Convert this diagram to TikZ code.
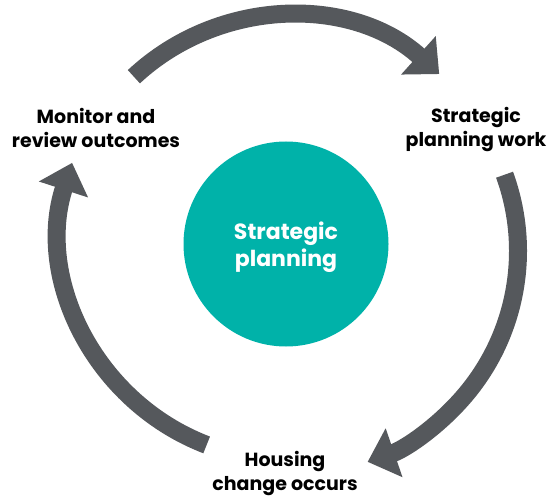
\documentclass[tikz,border=0pt]{standalone}
\usepackage{fontspec}
\setmainfont{Poppins}
\usetikzlibrary{arrows.meta}
\definecolor{cyclegrey}{HTML}{55585C}
\definecolor{planteal}{HTML}{00B2A9}

\begin{document}
\begin{tikzpicture}[x=1pt, y=1pt,
    every node/.style={align=center, font=\fontsize{19}{24}\selectfont\bfseries},
    cyclearrow/.style={draw=cyclegrey, line width=18pt, -{Triangle[width=50pt,length=28pt]}}]
    \useasboundingbox (0,0) rectangle (548,498);
    \node[circle, fill=planteal, minimum size=205pt, text=white, text height=52pt, font=\fontsize{22}{27}\selectfont\bfseries] (hub) at (286,254) {Strategic\\planning};
    \node (monitor) at (96,370) {Monitor and\\review outcomes};
    \node (work) at (476,368) {Strategic\\planning work};
    \node (housing) at (285,24) {Housing\\change occurs};
    % the three arrows of the cycle, clockwise
    \coordinate (topTail) at (288+226*cos 133, 256+226*sin 133);
    \coordinate (rightTail) at (295+223*cos 20, 247+223*sin 20);
    \coordinate (leftTail) at (288+227*cos 249, 265+227*sin 249);
    \draw[cyclearrow] (topTail) arc[start angle=133, end angle=48, radius=226];
    \draw[cyclearrow] (rightTail) arc[start angle=20, end angle=-71, radius=223];
    \draw[cyclearrow] (leftTail) arc[start angle=249, end angle=162, radius=227];
\end{tikzpicture}
\end{document}
